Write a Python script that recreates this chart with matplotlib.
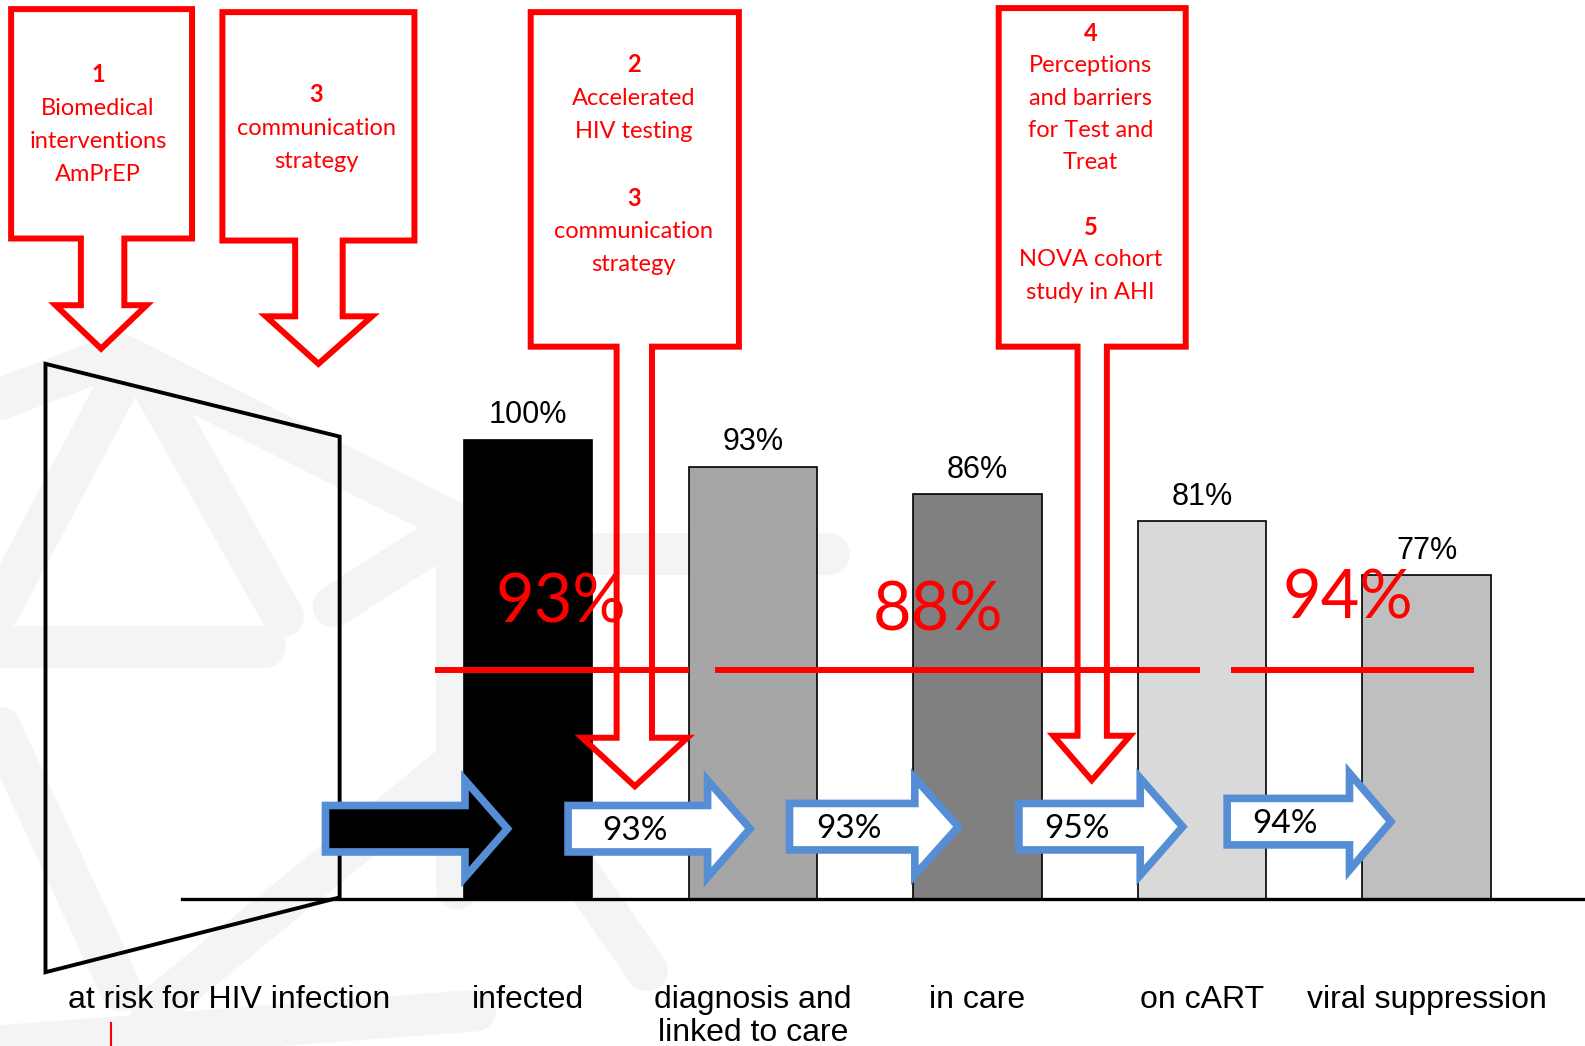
import matplotlib
matplotlib.use("Agg")
import matplotlib.pyplot as plt
from matplotlib.patches import Polygon
from matplotlib import font_manager
from matplotlib.transforms import blended_transform_factory

# data
stages = ["infected", "diagnosis and\nlinked to care", "in care", "on cART", "viral suppression"]
bar_heights = [100, 94.1, 88.1, 82.2, 70.5]
bar_labels = ["100%", "93%", "86%", "81%", "77%"]
bar_colors = ["#000000", "#a6a6a6", "#808080", "#d9d9d9", "#bfbfbf"]
step_labels = ["", "93%", "93%", "95%", "94%"]
segment_labels = ["93%", "88%", "94%"]
risk_label = "at risk for HIV infection"

callout_texts = [
    [("1", True), ("Biomedical", False), ("interventions", False), ("AmPrEP", False)],
    [("3", True), ("communication", False), ("strategy", False)],
    [("2", True), ("Accelerated", False), ("HIV testing", False), ("", False),
     ("3", True), ("communication", False), ("strategy", False)],
    [("4", True), ("Perceptions", False), ("and barriers", False), ("for Test and", False),
     ("Treat", False), ("", False), ("5", True), ("NOVA cohort", False), ("study in AHI", False)],
]

# layout (pixel-ish canvas coords, y downwards)
W, H = 1568, 1035
base_y = 890
px_per_pct = 4.55
c0, step = 522.5, 222.2
RED = "#ff0000"
BLUE = "#558ed5"

names = {f.name for f in font_manager.fontManager.ttflist}
arial = "Liberation Sans Narrow" if "Liberation Sans Narrow" in names else "Liberation Sans"
cal = "Lato"

fig = plt.figure(figsize=(15.85, 10.46), dpi=100)
fig.patch.set_facecolor("white")

wm = fig.add_axes([0, 0, 1, 1], zorder=0)
bx = fig.add_axes([0, 0, 1, 1], zorder=1)
ov = fig.add_axes([0, 0, 1, 1], zorder=2)
for a in (wm, ov):
    a.set_xlim(0, W)
    a.set_ylim(H, 0)
    a.axis("off")
bx.set_xlim((0 - c0) / step, (W - c0) / step)
bx.set_ylim((base_y - H) / px_per_pct, base_y / px_per_pct)
bx.axis("off")
bx.patch.set_alpha(0)
ov.patch.set_alpha(0)

# watermark logo, very light grey bands
wm_col = "#f4f4f4"
bands = [
    [(0, 395), (118, 350), (455, 520), (330, 600)],
    [(120, 375), (-20, 640)],
    [(0, 640), (262, 640)],
    [(150, 380), (280, 610)],
    [(820, 548), (452, 548), (452, 880)],
    [(480, 730), (150, 1000)],
    [(480, 730), (640, 960)],
    [(0, 1035), (470, 1000)],
    [(0, 720), (120, 980)],
]
for b in bands:
    xs, ys = zip(*b)
    wm.plot(xs, ys, color=wm_col, lw=30, solid_capstyle="round", solid_joinstyle="round")

# bars
x = list(range(len(stages)))
bx.bar(x, bar_heights, width=0.5715, color=bar_colors, edgecolor="black", linewidth=1.2)
for i in x:
    bx.annotate(bar_labels[i], (i, bar_heights[i]), xytext=(0, 7), textcoords="offset points",
                ha="center", va="bottom", fontsize=22, family=arial, color="black")

lab_tr = blended_transform_factory(bx.transData, ov.transData)
for i in x:
    ov.text(i, 975, stages[i], transform=lab_tr, ha="center", va="top", fontsize=23,
            family=arial, linespacing=1.1)
ov.text(227, 975, risk_label, ha="center", va="top", fontsize=23, family=arial)
ov.plot([110, 110], [1012, 1035], color=RED, lw=1.5)

# baseline and door shape
ov.plot([180, W], [base_y, base_y], color="black", lw=2.4)
ov.add_patch(Polygon([(45, 360), (336, 432), (336, 888), (45, 962)], closed=True,
                     fill=False, edgecolor="black", lw=2.8, joinstyle="miter"))

# red threshold lines and labels
for (xa, xb) in [(430, 682), (707, 1187), (1218, 1458)]:
    ov.plot([xa, xb], [663, 663], color=RED, lw=4.3, solid_capstyle="butt")
for txt, (tx, ty) in zip(segment_labels, [(555, 597), (928, 605), (1333, 593)]):
    ov.text(tx, ty, txt, ha="center", va="center", fontsize=48, family=cal, color=RED)

# blue step arrows
def right_arrow(x0, xh, tip, yc, bh=23, hh=48):
    return [(x0, yc - bh), (xh, yc - bh), (xh, yc - hh), (tip, yc),
            (xh, yc + hh), (xh, yc + bh), (x0, yc + bh)]

arrow_geo = [(322, 460, 502, 820), (562, 700, 742, 820), (781, 905, 948, 818),
             (1008, 1128, 1170, 818), (1214, 1335, 1376, 813)]
for k, (x0, xh, tip, yc) in enumerate(arrow_geo):
    fc = "black" if k == 0 else "white"
    ov.add_patch(Polygon(right_arrow(x0, xh, tip, yc), closed=True, facecolor=fc,
                         edgecolor=BLUE, lw=5.5, joinstyle="miter"))
    if step_labels[k]:
        ov.text((x0 + xh) / 2 - 3, yc + 2, step_labels[k], ha="center", va="center",
                fontsize=24, family=cal, color="black")

# red callouts
def callout(L, R, T, B, sL, sR, wy, wL, wR, tx, ty):
    return [(L, T), (R, T), (R, B), (sR, B), (sR, wy), (wR, wy), (tx, ty),
            (wL, wy), (sL, wy), (sL, B), (L, B)]

callout_geo = [
    (11, 190, 9, 236, 80, 123, 302, 55, 145, 100, 345),
    (220, 410, 12, 238, 292, 339, 313, 263, 368, 315, 360),
    (525, 731, 12, 343, 610, 645, 730, 576, 680, 628, 778),
    (988, 1173, 8, 343, 1066, 1095, 728, 1042, 1118, 1080, 772),
]
text_pos = [(97, 74, 33), (313, 94, 33), (627, 64, 33), (1079, 33, 32)]
for geo, lines, (cx, y0, dy) in zip(callout_geo, callout_texts, text_pos):
    ov.add_patch(Polygon(callout(*geo), closed=True, fill=False, edgecolor=RED,
                         lw=4.3, joinstyle="miter"))
    for j, (s, bold) in enumerate(lines):
        if s:
            ov.text(cx, y0 + j * dy, s, ha="center", va="center", fontsize=17, family=cal,
                    color=RED, fontweight="bold" if bold else "normal")

fig.savefig("out.png", dpi=100)
